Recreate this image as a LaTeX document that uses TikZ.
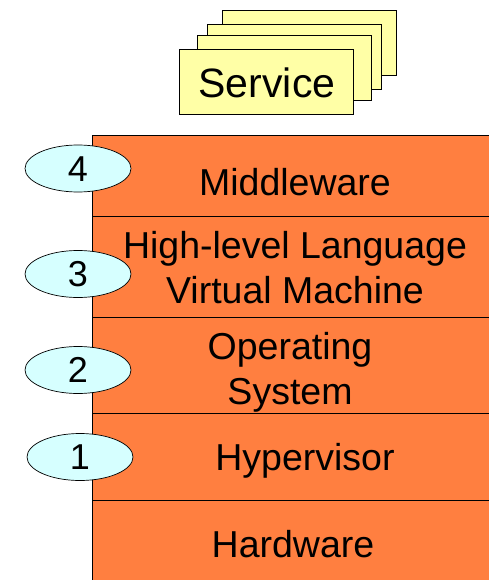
\documentclass[tikz,border=0pt]{standalone}
\usepackage{fontspec}
\setmainfont{Liberation Sans}
\usetikzlibrary{shapes.geometric}

\definecolor{layerfill}{HTML}{FF7F40}
\definecolor{cardfill}{HTML}{FFFFA6}
\definecolor{levelfill}{HTML}{D6FFFF}

\begin{document}
\begin{tikzpicture}[x=1pt, y=-1pt,
  card/.style={draw=black, line width=0.8pt, fill=cardfill, rectangle,
    anchor=north west, inner sep=0pt, minimum width=174pt, minimum height=65pt},
  layer/.style={draw=black, line width=0.8pt, fill=layerfill, rectangle,
    anchor=north west, inner sep=0pt, minimum width=400pt},
  layertext/.style={font=\fontsize{37.5}{45}\selectfont, align=center, inner sep=0pt},
  level/.style={ellipse, draw=black, line width=0.7pt, fill=levelfill,
    minimum width=106pt, minimum height=47pt, inner sep=0pt,
    font=\fontsize{36}{44}\selectfont, text height=25.8pt, text depth=0pt},
]
\useasboundingbox (0,0) rectangle (489,580);

% stack of service cards, back to front
\node[card] (card4) at (222,10) {};
\node[card] (card3) at (207,24) {};
\node[card] (card2) at (197,35) {};
\node[card] (card1) at (179,49) {};
\node[font=\fontsize{41}{49}\selectfont, anchor=base, inner sep=0pt] (service) at (267,98) {Service};

% software/hardware layers, top to bottom
\node[layer, minimum height=81pt]  (mw)  at (92,135) {};
\node[layer, minimum height=101pt] (hll) at (92,216) {};
\node[layer, minimum height=96pt]  (os)  at (92,317) {};
\node[layer, minimum height=87pt]  (hv)  at (92,413) {};
\node[layer, minimum height=90pt]  (hw)  at (92,500) {};

\node[layertext, anchor=base] (mwtext) at (295,195) {Middleware};
\node[layertext] (hlltext) at (295,268) {High-level Language\\Virtual Machine};
\node[layertext] (ostext) at (290,372) {Operating\\System};
\node[layertext, anchor=base] (hvtext) at (305,470) {Hypervisor};
\node[layertext, anchor=base] (hwtext) at (293,557) {Hardware};

% virtualisation levels
\node[level] (l4) at (78,168.5) {4};
\node[level] (l3) at (78,274) {3};
\node[level] (l2) at (78,370) {2};
\node[level] (l1) at (80,457) {1};
\end{tikzpicture}
\end{document}
